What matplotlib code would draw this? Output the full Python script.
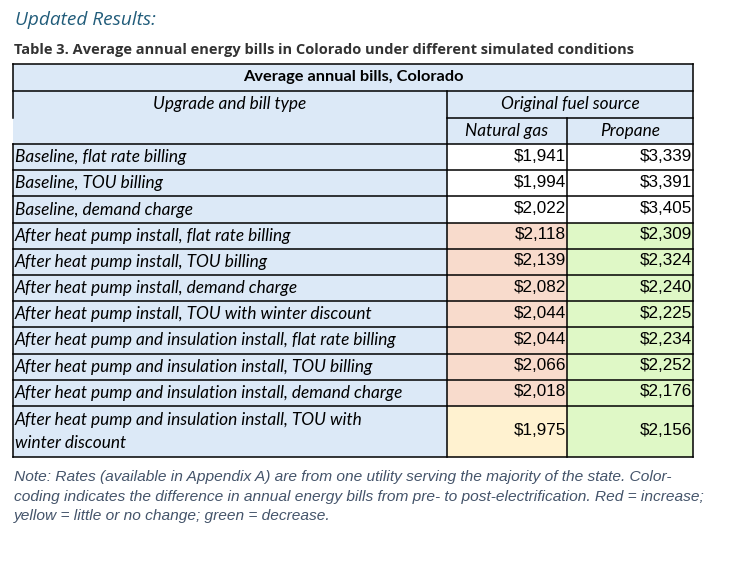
import matplotlib
matplotlib.use('Agg')
import matplotlib.pyplot as plt
from matplotlib.patches import Rectangle

# Table data
labels = [
    'Baseline, flat rate billing',
    'Baseline, TOU billing',
    'Baseline, demand charge',
    'After heat pump install, flat rate billing',
    'After heat pump install, TOU billing',
    'After heat pump install, demand charge',
    'After heat pump install, TOU with winter discount',
    'After heat pump and insulation install, flat rate billing',
    'After heat pump and insulation install, TOU billing',
    'After heat pump and insulation install, demand charge',
    'After heat pump and insulation install, TOU with\nwinter discount',
]
natural_gas = [1941, 1994, 2022, 2118, 2139, 2082, 2044, 2044, 2066, 2018, 1975]
propane = [3339, 3391, 3405, 2309, 2324, 2240, 2225, 2234, 2252, 2176, 2156]
ng_change = ['none'] * 3 + ['increase'] * 7 + ['little']
propane_change = ['none'] * 3 + ['decrease'] * 8

change_colors = {'none': 'white', 'increase': '#F8DBCC', 'little': '#FFF2D0', 'decrease': '#DFF8C6'}
blue = '#DCE9F7'

# layout in pixels
x0, x1, x2, x3 = 13, 447, 567, 693
y_top = 64
head_h = [27, 27, 26]
row_h = [26.2] * 10 + [51]

fig = plt.figure(figsize=(7.48, 5.62), dpi=100)
ax = fig.add_axes([0, 0, 1, 1])
ax.set_xlim(0, 748)
ax.set_ylim(562, 0)
ax.axis('off')

label_font = dict(family='Lato', style='italic', size=12.45, color='black')
num_font = dict(family='Liberation Sans', size=12.3, color='black')

ax.text(15, 20, 'Updated Results:', family='Open Sans', style='italic', size=13.7,
        color='#215C7A', va='center')
ax.text(14, 50, 'Table 3. Average annual energy bills in Colorado under different simulated conditions',
        family='Open Sans', weight='bold', size=10.5, color='#333333', va='center')

# header
h1 = y_top + head_h[0]
h2 = h1 + head_h[1]
h3 = h2 + head_h[2]
ax.add_patch(Rectangle((x0, y_top), x3 - x0, h3 - y_top, color=blue, lw=0))
ax.text((x0 + x3) / 2, (y_top + h1) / 2, 'Average annual bills, Colorado', family='Lato',
        weight='bold', size=11.8, ha='center', va='center')
ax.text((x0 + x1) / 2, (h1 + h2) / 2, 'Upgrade and bill type', ha='center', va='center', **label_font)
ax.text((x1 + x3) / 2, (h1 + h2) / 2, 'Original fuel source', ha='center', va='center', **label_font)
ax.text((x1 + x2) / 2, (h2 + h3) / 2, 'Natural gas', ha='center', va='center', **label_font)
ax.text((x2 + x3) / 2, (h2 + h3) / 2, 'Propane', ha='center', va='center', **label_font)

# body
y = h3
row_edges = [y]
for i, lab in enumerate(labels):
    h = row_h[i]
    ax.add_patch(Rectangle((x0, y), x1 - x0, h, color=blue, lw=0))
    ax.add_patch(Rectangle((x1, y), x2 - x1, h, color=change_colors[ng_change[i]], lw=0))
    ax.add_patch(Rectangle((x2, y), x3 - x2, h, color=change_colors[propane_change[i]], lw=0))
    ax.text(x0 + 2, y + h / 2, lab, ha='left', va='center', linespacing=1.6, **label_font)
    ax.text(x2 - 1, y + h / 2 - 1, '${:,}'.format(natural_gas[i]), ha='right', va='center', **num_font)
    ax.text(x3 - 1, y + h / 2 - 1, '${:,}'.format(propane[i]), ha='right', va='center', **num_font)
    y += h
    row_edges.append(y)
y_bot = y

# borders
lw = 1.1
def hline(yy, xa, xb):
    ax.plot([xa, xb], [yy, yy], color='black', lw=lw, solid_capstyle='projecting')

def vline(xx, ya, yb):
    ax.plot([xx, xx], [ya, yb], color='black', lw=lw, solid_capstyle='projecting')

hline(y_top, x0, x3)
hline(h1, x0, x3)
hline(h2, x1, x3)
for e in row_edges:
    hline(e, x0, x3)
vline(x0, y_top, h2)
vline(x0, h3, y_bot)
vline(x3, y_top, y_bot)
vline(x1, h1, y_bot)
vline(x2, h2, y_bot)

note = ('Note: Rates (available in Appendix A) are from one utility serving the majority of the state. Color-\n'
        'coding indicates the difference in annual energy bills from pre- to post-electrification. Red = increase;\n'
        'yellow = little or no change; green = decrease.')
ax.text(14, 470, note, family='Liberation Sans', style='italic', size=11.15,
        color='#44546A', va='top', linespacing=1.5)

fig.savefig('out.png', dpi=100)
